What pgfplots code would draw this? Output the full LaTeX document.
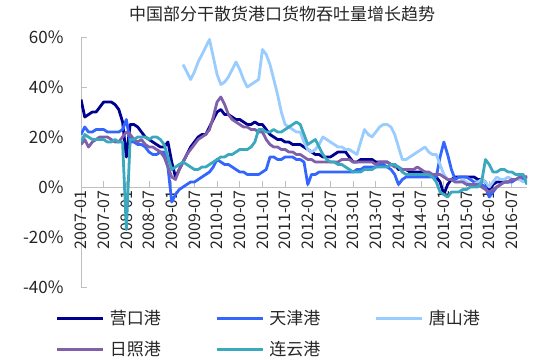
\documentclass[border=0pt]{standalone}
\usepackage{pgfplots}
\pgfplotsset{compat=1.18}
\usepackage{pgfplotstable}
\usepackage{fontspec}
\setmainfont{Noto Sans CJK SC}
\definecolor{cYK}{HTML}{000090}
\definecolor{cTJ}{HTML}{3366FF}
\definecolor{cTS}{HTML}{99CCFF}
\definecolor{cRZ}{HTML}{8060A8}
\definecolor{cLY}{HTML}{3AA8BE}
\definecolor{axgray}{HTML}{BFBFBF}
\definecolor{txt}{HTML}{262626}

\pgfplotstableread{
m YK TJ TS RZ LY
0 35 21 nan 17 18
1 28 24 nan 19 21
2 29 22 nan 16 20
3 30 22 nan 18 19
4 30 23 nan 19 19
5 32 23 nan 20 19
6 34 23 nan 20 19
7 34 22 nan 20 18
8 34 22 nan 19 18
9 33 22 nan 18 19
10 31 22 nan 18 18
11 26 23 nan 20 18
12 12 27 nan 22 -17
13 25 18 nan 21 19
14 25 18 nan 19 19
15 24 17 nan 18 20
16 22 17 nan 19 20
17 20 16 nan 17 20
18 19 14 nan 16 19
19 18 13 nan 16 20
20 17 13 nan 15 20
21 16 14 nan 14 19
22 16 14 nan 12 17
23 18 8 nan 8 12
24 10 -6 nan 4 7
25 4 -3 nan 3 8
26 7 -1 nan 7 9
27 10 0 49 10 10
28 13 1 46 13 9
29 16 2 43 15 8
30 18 2 46 17 7
31 20 3 50 19 7
32 21 4 53 20 8
33 21 5 56 21 8
34 24 6 59 23 9
35 27 8 52 28 10
36 30 11 45 34 11
37 31 10 41 36 12
38 29 9 42 33 12
39 29 9 44 29 13
40 28 8 47 27 13
41 27 7 50 26 14
42 27 6 47 25 15
43 26 6 43 24 15
44 25 5 40 24 15
45 25 5 41 23 16
46 26 5 42 23 18
47 25 5 43 22 23
48 25 6 55 22 23
49 23 7 53 19 22
50 21 12 49 17 22
51 20 12 43 16 23
52 19 11 37 16 22
53 19 11 30 15 22
54 18 12 25 15 23
55 18 12 24 14 24
56 17 12 23 14 25
57 17 11 22 13 26
58 17 11 22 13 25
59 16 10 18 12 21
60 15 1 15 11 17
61 14 5 14 11 18
62 13 5 15 10 19
63 13 6 17 10 16
64 12 6 20 10 13
65 12 6 19 10 11
66 12 6 18 10 10
67 13 6 17 10 10
68 14 6 16 10 9
69 14 6 16 11 9
70 14 6 15 11 8
71 12 6 15 11 7
72 10 6 14 10 6
73 10 7 13 10 6
74 11 7 18 10 6
75 11 8 23 10 7
76 11 8 21 10 7
77 11 8 20 10 7
78 10 8 22 9 8
79 10 9 24 10 8
80 10 9 25 10 8
81 10 8 25 10 8
82 9 7 24 9 9
83 9 5 21 8 9
84 7 1 16 8 8
85 7 3 11 7 6
86 7 4 11 7 5
87 6 4 12 7 5
88 6 4 13 7 5
89 6 4 14 8 5
90 6 4 15 7 5
91 6 4 16 6 5
92 5 4 14 6 5
93 5 4 13 5 4
94 4 4 13 5 2
95 2 12 9 5 -2
96 -3 18 5 4 -3
97 1 13 3 3 -4
98 3 7 3 3 -2
99 4 3 2 2 -2
100 4 4 2 2 -2
101 4 4 3 2 -1
102 4 4 2 1 -1
103 4 3 1 1 0
104 4 2 1 1 0
105 3 2 2 1 0
106 3 1 3 0 2
107 2 0 2 -1 11
108 -2 -4 0 -2 9
109 1 -2 2 -1 6
110 2 0 4 0 6
111 2 1 3 1 7
112 2 2 3 2 7
113 2 2 4 2 6
114 3 2 3 3 6
115 3 3 3 3 5
116 3 3 3 4 5
117 4 3 2 4 5
118 4 4 3 4 1
}\ports

\begin{document}
\begin{tikzpicture}
\useasboundingbox (0,0) rectangle (537pt,361pt);
\node[text=txt, font=\fontsize{17}{20}\selectfont, anchor=center] at (282pt,347pt) {中国部分干散货港口货物吞吐量增长趋势};
\begin{axis}[
  at={(81pt,74pt)}, anchor=south west,
  scale only axis, width=446pt, height=250pt,
  xmin=0, xmax=118, ymin=-40, ymax=60,
  axis x line*=middle, axis y line*=left,
  hide obscured x ticks=false,
  axis line style={axgray, line width=0.8pt},
  tick style={axgray, line width=0.8pt},
  tick align=inside, major tick length=6pt,
  xtick={0,6,...,114},
  xticklabels={2007-01,2007-07,2008-01,2008-07,2009-01,2009-07,2010-01,2010-07,2011-01,2011-07,2012-01,2012-07,2013-01,2013-07,2014-01,2014-07,2015-01,2015-07,2016-01,2016-07},
  xticklabel style={rotate=90, anchor=east, font=\fontsize{16}{18}\selectfont, text=txt},
  ytick={-40,-20,0,20,40,60},
  yticklabels={-40\%,-20\%,0\%,20\%,40\%,60\%},
  yticklabel style={font=\fontsize{17}{20}\selectfont, text=txt, xshift=-14pt},
  unbounded coords=jump,
  every axis plot/.append style={line width=2.8pt, line join=round, no markers},
  legend columns=3,
  legend cell align=left,
  legend style={at={(-0.058,-0.085)}, anchor=north west, draw=none, fill=none,
    font=\fontsize{17}{20}\selectfont, text=txt,
    /tikz/every odd column/.append style={column sep=3pt},
    /tikz/every even column/.append style={column sep=52pt},
    row sep=11pt, inner sep=0pt},
  legend image code/.code={\draw[#1, line width=3.5pt] (0pt,0pt) -- (46pt,0pt);},
]
\addplot[cYK] table[x=m, y=YK] {\ports};
\addplot[cTJ] table[x=m, y=TJ] {\ports};
\addplot[cTS] table[x=m, y=TS] {\ports};
\addplot[cRZ] table[x=m, y=RZ] {\ports};
\addplot[cLY] table[x=m, y=LY] {\ports};
\legend{营口港,天津港,唐山港,日照港,连云港}
\end{axis}
\end{tikzpicture}
\end{document}
